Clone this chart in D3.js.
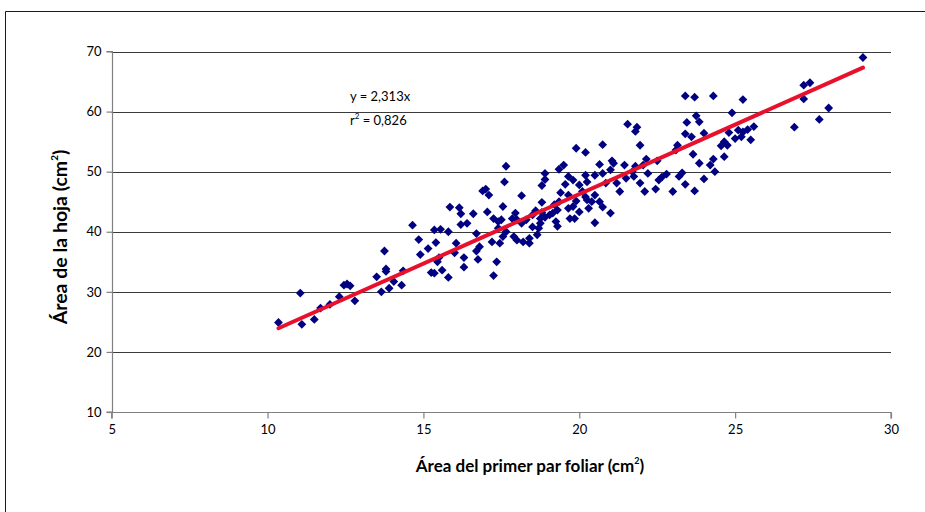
<!DOCTYPE html>
<html>
<head>
<meta charset="utf-8">
<script src="https://cdn.jsdelivr.net/npm/d3@7"></script>
<style>
  html, body { margin: 0; padding: 0; background: #fff; }
  svg { display: block; }
  text { font-family: Lato, "Open Sans", "Liberation Sans", sans-serif; fill: #000; }
</style>
</head>
<body>
<svg id="chart" width="925" height="512"></svg>
<script>
// Área del primer par foliar (cm²)
const primerPar = [
  10.35, 11.05, 11.1, 11.5, 11.7, 12.0, 12.3, 12.45, 12.55, 12.65, 12.8, 13.5, 13.8, 13.65, 13.9, 14.05, 14.3,
  15.25, 15.35, 15.6, 15.8, 14.65, 14.85, 13.75, 13.8, 14.35, 14.9,
  17.0, 16.9, 17.1, 17.6, 15.85, 16.15, 16.2, 16.6, 17.05, 18.15, 18.8, 18.8, 17.55, 17.25, 17.4, 17.5, 17.95, 18.0,
  15.35, 15.55, 15.8, 16.2, 16.4, 16.7, 15.4, 15.15, 16.05, 16.8, 16.7, 17.2, 17.45, 17.55, 17.65, 17.4, 18.0, 18.2,
  18.4, 18.5, 18.75, 18.9, 19.15, 19.25, 18.65, 15.45, 15.5, 16.0, 16.3, 16.3, 16.75, 17.35, 17.25, 17.9, 18.4,
  21.8, 21.95, 20.75, 19.9, 20.2, 17.65, 18.9, 18.9, 19.35, 19.5, 19.65, 19.8, 19.55, 19.4, 19.65, 20.0, 20.2, 20.25,
  20.5, 20.65, 20.75, 21.05, 21.1, 21.0, 20.85, 21.45, 21.8, 22.05, 22.2, 21.95, 22.1, 22.45, 21.2, 21.3,
  20.1, 20.2, 20.25, 20.5, 20.4, 20.65, 20.75, 21.0, 19.35, 19.2, 19.3, 19.65, 19.9, 20.0, 20.3, 19.85, 19.7, 20.5,
  18.8, 18.6, 18.5, 18.75, 18.3, 18.15, 19.05, 19.3, 18.7, 17.85, 19.8, 23.0,
  23.4, 23.7, 24.3, 25.25, 24.9, 21.55, 21.85, 23.75, 23.85, 23.45, 23.4, 23.6, 24.0, 24.8, 25.1, 25.25, 25.4, 25.6,
  25.0, 25.2, 25.5, 24.65, 24.75, 24.55, 23.15, 23.1, 23.65, 23.85, 24.3, 24.2, 24.65, 24.35, 24.0, 23.7, 23.4, 23.3,
  23.2, 22.8, 22.65, 22.55, 22.15, 22.5, 21.5, 21.75, 21.7,
  29.1, 27.2, 27.4, 27.2, 28.0, 27.7, 26.9
];

// Área de la hoja (cm²)
const hoja = [
  24.9, 29.8, 24.6, 25.4, 27.3, 27.9, 29.2, 31.1, 31.3, 31.0, 28.5, 32.5, 33.4, 30.0, 30.6, 31.7, 31.1,
  33.2, 33.1, 33.6, 32.4, 41.1, 38.7, 36.8, 33.8, 33.5, 36.2,
  47.1, 46.8, 46.1, 48.3, 44.1, 44.0, 43.0, 43.0, 43.3, 46.0, 47.7, 44.9, 44.2, 42.2, 41.7, 42.0, 43.1, 42.0,
  40.3, 40.4, 40.0, 41.2, 41.4, 39.7, 38.2, 37.2, 38.1, 37.5, 36.8, 38.3, 38.1, 39.2, 40.0, 40.6, 38.6, 38.3,
  38.9, 40.8, 41.4, 42.4, 43.1, 41.7, 39.5, 35.0, 35.7, 36.5, 35.7, 34.1, 35.4, 35.0, 32.7, 39.2, 38.1,
  56.7, 54.4, 54.5, 53.9, 53.2, 50.9, 49.7, 48.7, 50.4, 51.1, 49.2, 48.6, 47.9, 46.5, 46.1, 47.8, 49.4, 48.3,
  49.4, 51.2, 49.7, 51.8, 51.4, 50.3, 48.1, 51.1, 50.9, 51.1, 49.7, 48.1, 46.7, 47.1, 48.1, 46.7,
  46.7, 45.8, 45.3, 46.1, 45.0, 45.0, 44.1, 43.1, 45.0, 44.5, 43.6, 43.9, 45.1, 43.3, 43.9, 42.2, 42.2, 41.5,
  43.2, 43.5, 42.8, 42.2, 42.0, 41.4, 42.8, 40.9, 40.6, 42.2, 44.2, 46.7,
  62.6, 62.4, 62.6, 62.0, 59.8, 57.9, 57.4, 59.3, 58.3, 58.2, 56.3, 55.8, 56.4, 56.5, 56.9, 56.6, 57.0, 57.5,
  55.5, 55.8, 55.3, 55.0, 54.4, 54.3, 54.4, 53.6, 52.9, 51.4, 52.1, 51.1, 52.5, 50.0, 48.8, 46.8, 47.9, 49.8,
  49.2, 49.6, 49.1, 48.6, 52.1, 51.8, 48.9, 49.2, 50.0,
  69.0, 64.4, 64.8, 62.1, 60.6, 58.7, 57.4
];

const xTicks = [5, 10, 15, 20, 25, 30];
const yTicks = [10, 20, 30, 40, 50, 60, 70];
const slope = 2.313;      // regression through origin
const r2Text = "0,826";

const svg = d3.select("#chart");

// chart frame
svg.append("path")
  .attr("d", "M5.5,512V11.5H925")
  .attr("fill", "none")
  .attr("stroke", "#1a1a1a")
  .attr("stroke-width", 1);

const x = d3.scaleLinear().domain([5, 30]).range([111.7, 891]);
const y = d3.scaleLinear().domain([10, 70]).range([412, 51.5]);

// horizontal gridlines
svg.append("g")
  .selectAll("line")
  .data(yTicks.filter(v => v > 10))
  .join("line")
  .attr("x1", x(5)).attr("x2", x(30))
  .attr("y1", d => Math.round(y(d)) + 0.5)
  .attr("y2", d => Math.round(y(d)) + 0.5)
  .attr("stroke", "#3a3a3a")
  .attr("stroke-width", 1);

// axes
const yAxis = svg.append("g")
  .attr("transform", `translate(${Math.round(x(5)) + 0.5},0)`)
  .call(d3.axisLeft(y).tickValues(yTicks).tickSize(6).tickPadding(5).tickFormat(d3.format("d")));
const xAxis = svg.append("g")
  .attr("transform", `translate(0,${Math.round(y(10)) + 0.5})`)
  .call(d3.axisBottom(x).tickValues(xTicks).tickSize(6).tickPadding(6).tickFormat(d3.format("d")));

[yAxis, xAxis].forEach(g => {
  g.select(".domain").attr("stroke", "#808080").attr("stroke-width", 1.2);
  g.selectAll(".tick line").attr("stroke", "#808080").attr("stroke-width", 1.2);
  g.selectAll(".tick text")
    .attr("font-family", "Lato, 'Open Sans', sans-serif")
    .attr("font-size", 13)
    .attr("fill", "#000");
});
xAxis.select(".domain").attr("d", `M${x(5)},6V0H${x(30)}V6`);
yAxis.select(".domain").attr("d", `M-6,${y(70)}H0V${y(10)}H-6`);

// data points: navy diamonds
const r = 4.4;
svg.append("g")
  .selectAll("path")
  .data(primerPar.map((v, i) => [v, hoja[i]]))
  .join("path")
  .attr("d", `M0,${-r}L${r},0L0,${r}L${-r},0Z`)
  .attr("transform", d => `translate(${x(d[0])},${y(d[1])})`)
  .attr("fill", "#000080");

// trend line y = 2.313x across the observed range
const xr = d3.extent(primerPar);
svg.append("line")
  .attr("x1", x(xr[0])).attr("y1", y(slope * xr[0]))
  .attr("x2", x(xr[1])).attr("y2", y(slope * xr[1]))
  .attr("stroke", "#e8112d")
  .attr("stroke-width", 4)
  .attr("stroke-linecap", "round");

// equation and r²
const eq = svg.append("g").attr("font-size", 13);
eq.append("text").attr("x", 350).attr("y", 101).text("y = 2,313x");
const r2 = eq.append("text").attr("x", 350).attr("y", 125);
r2.append("tspan").text("r");
r2.append("tspan").attr("font-size", 8).attr("dy", -6).text("2");
r2.append("tspan").attr("dy", 6).text(" = " + r2Text);

// axis titles
const yTitle = svg.append("text")
  .attr("transform", "translate(67,237) rotate(-90)")
  .attr("text-anchor", "middle")
  .attr("font-size", 19.5)
  .attr("font-weight", "bold");
yTitle.append("tspan").text("Área de la hoja (cm");
yTitle.append("tspan").attr("font-size", 10).attr("dy", -9).text("2");
yTitle.append("tspan").attr("dy", 9).text(")");

const xTitle = svg.append("text")
  .attr("x", 530).attr("y", 472)
  .attr("text-anchor", "middle")
  .attr("font-size", 17)
  .attr("font-weight", "bold");
xTitle.append("tspan").text("Área del primer par foliar (cm");
xTitle.append("tspan").attr("font-size", 9).attr("dy", -8).text("2");
xTitle.append("tspan").attr("dy", 8).text(")");
</script>
</body>
</html>
